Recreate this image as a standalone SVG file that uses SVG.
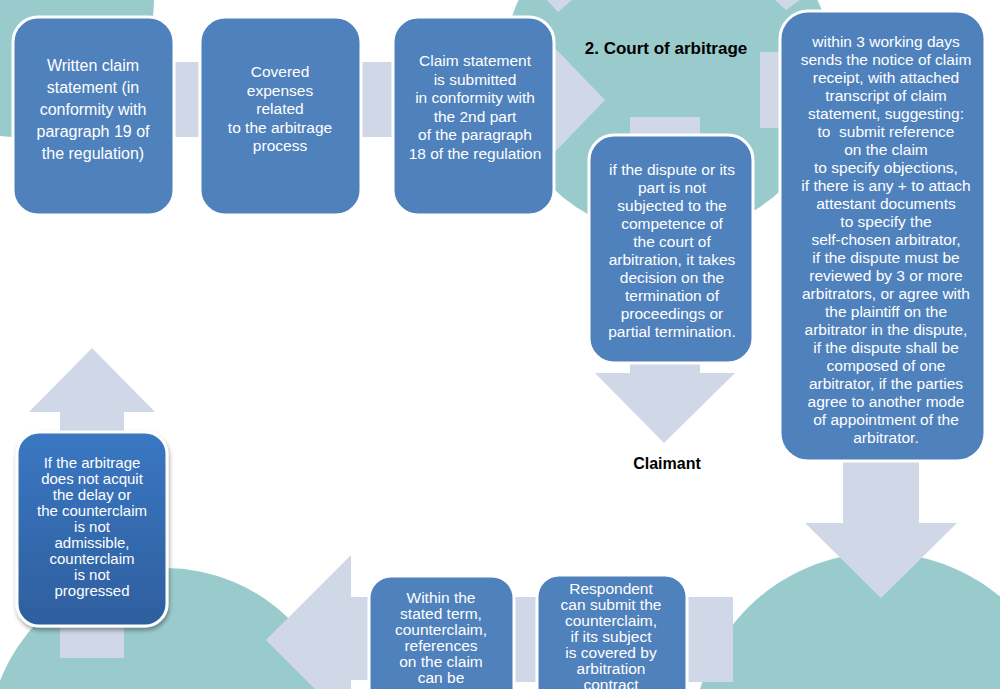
<svg xmlns="http://www.w3.org/2000/svg" width="1000" height="689" viewBox="0 0 1000 689">
<defs>
<style>
.bg{fill:#ffffff}
.teal{fill:#9acbcc}
.arr{fill:#d0d8e7}
.box{fill:#4f81bd;stroke:#ffffff;stroke-width:3}
.t{font-family:"Liberation Sans",Arial,sans-serif;fill:#ffffff;text-anchor:middle;font-size:15.5px}
.lbl{font-family:"Liberation Sans",Arial,sans-serif;fill:#000000;text-anchor:middle;font-weight:bold}
</style>
<linearGradient id="g6" x1="0" y1="0" x2="0" y2="1">
<stop offset="0" stop-color="#3a77c2"/>
<stop offset="1" stop-color="#2e5f9e"/>
</linearGradient>
<filter id="sh" x="-10%" y="-10%" width="130%" height="130%">
<feDropShadow dx="1" dy="3" stdDeviation="2" flood-color="#000000" flood-opacity="0.35"/>
</filter>
</defs>
<rect class="bg" x="0" y="0" width="1000" height="689"/>
<g id="background">
<circle class="teal" cx="17" cy="0" r="137"/>
<circle class="teal" cx="668" cy="70" r="165"/>
<circle class="teal" cx="880" cy="740" r="187"/>
<circle class="teal" cx="165" cy="745" r="177"/>
</g>
<g id="connectors">
<rect class="arr" x="174" y="62" width="27" height="75"/>
<rect class="arr" x="361" y="62" width="33" height="75"/>
<polygon class="arr" points="552,45 605,100 552,155"/>
<polygon class="arr" points="547,0 572,0 558,12"/>
<polygon class="arr" points="775,0 800,0 786,10"/>
<rect class="arr" x="760" y="52" width="22" height="76"/>
<rect class="arr" x="630" y="117" width="70" height="256"/>
<polygon class="arr" points="595,373 735,373 664,443"/>
<rect class="arr" x="843" y="455" width="76" height="68"/>
<polygon class="arr" points="805,523 957,523 881,598"/>
<rect class="arr" x="687" y="597" width="46" height="85"/>
<rect class="arr" x="512" y="597" width="27" height="85"/>
<rect class="arr" x="345" y="597" width="27" height="83"/>
<polygon class="arr" points="351,555 266,640 351,725"/>
<rect class="arr" x="60" y="410" width="64" height="248"/>
<polygon class="arr" points="29,412 155,412 92,348"/>
</g>
<g id="court">
<text class="lbl" x="666" y="54" font-size="17">2. Court of arbitrage</text>
</g>
<g id="claimant">
<text class="lbl" x="667" y="469" font-size="16">Claimant</text>
</g>
<g id="n1">
<rect class="box" x="13" y="17" width="161" height="198" rx="25"/>
<text class="t" font-size="16" style="font-size:16px"><tspan x="93" y="71">Written claim</tspan><tspan x="93" y="93">statement (in</tspan><tspan x="93" y="115">conformity with</tspan><tspan x="93" y="137">paragraph 19 of</tspan><tspan x="93" y="159">the regulation)</tspan></text>
</g>
<g id="n2">
<rect class="box" x="200" y="17" width="161" height="198" rx="25"/>
<text class="t"><tspan x="280" y="77">Covered</tspan><tspan x="280" y="96">expenses</tspan><tspan x="280" y="114">related</tspan><tspan x="280" y="133">to the arbitrage</tspan><tspan x="280" y="151">process</tspan></text>
</g>
<g id="n3">
<rect class="box" x="393" y="17" width="161" height="198" rx="25"/>
<text class="t"><tspan x="475" y="66">Claim statement</tspan><tspan x="475" y="85">is submitted</tspan><tspan x="475" y="103">in conformity with</tspan><tspan x="475" y="122">the 2nd part</tspan><tspan x="475" y="140">of the paragraph</tspan><tspan x="475" y="159">18 of the regulation</tspan></text>
</g>
<g id="n4">
<rect class="box" x="589" y="135" width="164" height="228" rx="25"/>
<text class="t"><tspan x="672" y="175">if the dispute or its</tspan><tspan x="672" y="193">part is not</tspan><tspan x="672" y="211">subjected to the</tspan><tspan x="672" y="229">competence of</tspan><tspan x="672" y="247">the court of</tspan><tspan x="672" y="265">arbitration, it takes</tspan><tspan x="672" y="283">decision on the</tspan><tspan x="672" y="301">termination of</tspan><tspan x="672" y="319">proceedings or</tspan><tspan x="672" y="337">partial termination.</tspan></text>
</g>
<g id="n5">
<rect class="box" x="780" y="11" width="205" height="450" rx="28"/>
<text class="t"><tspan x="886" y="47">within 3 working days</tspan><tspan x="886" y="65">sends the notice of claim</tspan><tspan x="886" y="83">receipt, with attached</tspan><tspan x="886" y="101">transcript of claim</tspan><tspan x="886" y="119">statement, suggesting:</tspan><tspan x="886" y="137" xml:space="preserve">to  submit reference</tspan><tspan x="886" y="155">on the claim</tspan><tspan x="886" y="173">to specify objections,</tspan><tspan x="886" y="191">if there is any + to attach</tspan><tspan x="886" y="209">attestant documents</tspan><tspan x="886" y="227">to specify the</tspan><tspan x="886" y="245">self-chosen arbitrator,</tspan><tspan x="886" y="263">if the dispute must be</tspan><tspan x="886" y="281">reviewed by 3 or more</tspan><tspan x="886" y="299">arbitrators, or agree with</tspan><tspan x="886" y="317">the plaintiff on the</tspan><tspan x="886" y="335">arbitrator in the dispute,</tspan><tspan x="886" y="353">if the dispute shall be</tspan><tspan x="886" y="371">composed of one</tspan><tspan x="886" y="389">arbitrator, if the parties</tspan><tspan x="886" y="407">agree to another mode</tspan><tspan x="886" y="425">of appointment of the</tspan><tspan x="886" y="443">arbitrator.</tspan></text>
</g>
<g id="n6">
<rect x="17" y="432" width="150" height="194" rx="22" fill="url(#g6)" stroke="#ffffff" stroke-width="3" filter="url(#sh)"/>
<text class="t" style="font-size:15px"><tspan x="92" y="468">If the arbitrage</tspan><tspan x="92" y="484">does not acquit</tspan><tspan x="92" y="500">the delay or</tspan><tspan x="92" y="516">the counterclaim</tspan><tspan x="92" y="532">is not</tspan><tspan x="92" y="548">admissible,</tspan><tspan x="92" y="564">counterclaim</tspan><tspan x="92" y="580">is not</tspan><tspan x="92" y="596">progressed</tspan></text>
</g>
<g id="n7">
<rect class="box" x="369" y="576" width="145" height="140" rx="22"/>
<text class="t"><tspan x="441" y="603">Within the</tspan><tspan x="441" y="619">stated term,</tspan><tspan x="441" y="635">counterclaim,</tspan><tspan x="441" y="651">references</tspan><tspan x="441" y="667">on the claim</tspan><tspan x="441" y="683">can be</tspan></text>
</g>
<g id="n8">
<rect class="box" x="537" y="575" width="150" height="140" rx="22"/>
<text class="t"><tspan x="611" y="594">Respondent</tspan><tspan x="611" y="610">can submit the</tspan><tspan x="611" y="626">counterclaim,</tspan><tspan x="611" y="642">if its subject</tspan><tspan x="611" y="658">is covered by</tspan><tspan x="611" y="674">arbitration</tspan><tspan x="611" y="690">contract</tspan></text>
</g>
</svg>
